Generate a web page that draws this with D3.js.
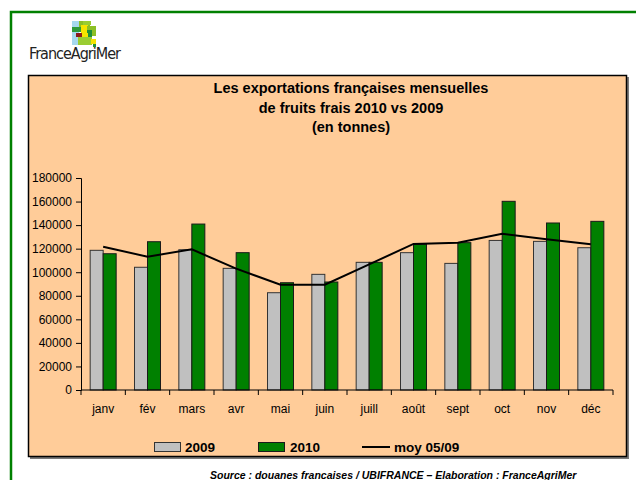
<!DOCTYPE html>
<html>
<head>
<meta charset="utf-8">
<script src="https://cdn.jsdelivr.net/npm/d3@7"></script>
<style>
body { margin: 0; background: #fff; }
text { font-family: "Liberation Sans", Arial, sans-serif; }
</style>
</head>
<body>
<div id="chart"></div>
<script>
var months = ["janv", "fév", "mars", "avr", "mai", "juin", "juill", "août", "sept", "oct", "nov", "déc"];
var exp2009 = [118600, 104200, 119100, 103300, 82600, 98200, 108400, 116600, 107500, 127000, 126200, 120800];
var exp2010 = [115700, 125900, 140900, 116600, 91100, 91700, 108400, 123700, 125100, 160200, 141800, 143200];
var moy0509 = [121700, 113200, 119400, 103000, 89400, 89400, 106700, 124000, 125100, 132700, 127900, 123700];
var yTicks = [0, 20000, 40000, 60000, 80000, 100000, 120000, 140000, 160000, 180000];
var titleLines = ["Les exportations françaises mensuelles", "de fruits frais 2010 vs 2009", "(en tonnes)"];

var width = 636, height = 480;

var svg = d3.select("#chart")
    .append("svg")
    .attr("width", width)
    .attr("height", height);

// outer green frame
svg.append("path")
    .attr("d", "M11,490 L11,12 L640,12")
    .attr("fill", "none")
    .attr("stroke", "#008000")
    .attr("stroke-width", 2.5);

// logo
var logo = svg.append("g").attr("transform", "translate(72,21)");
var blocks = [
    [0, 0, 7, 24, "#a6d8ee"], [7, 0, 11, 6, "#8cbf26"], [11, 0, 8, 4, "#9acd32"],
    [0, 6, 9, 5, "#2e9a3a"], [9, 4, 7, 10, "#f5e400"], [15, 5, 9, 10, "#8cbf26"],
    [15, 9, 5, 8, "#1f8f3a"], [4, 12, 6, 4, "#8b1a1a"], [10, 12, 6, 6, "#f5e400"],
    [6, 16, 14, 8, "#9acd32"], [19, 18, 5, 5, "#f5e400"], [21, 23, 3, 3, "#1f8f3a"]
];
logo.selectAll("rect")
    .data(blocks)
    .enter().append("rect")
    .attr("x", function(d) { return d[0]; })
    .attr("y", function(d) { return d[1]; })
    .attr("width", function(d) { return d[2]; })
    .attr("height", function(d) { return d[3]; })
    .attr("fill", function(d) { return d[4]; });

svg.append("text")
    .attr("x", 29)
    .attr("y", 59)
    .attr("textLength", 92)
    .style("font-family", "'DejaVu Sans Condensed', 'Liberation Sans Narrow', sans-serif")
    .style("font-size", "16px")
    .style("fill", "#222")
    .text("FranceAgriMer");

// chart box with shadow
svg.append("rect")
    .attr("x", 30).attr("y", 77)
    .attr("width", 599).attr("height", 382)
    .attr("fill", "#7a7a7a");
svg.append("rect")
    .attr("x", 28.5).attr("y", 75.5)
    .attr("width", 598).attr("height", 381)
    .attr("fill", "#ffcc99")
    .attr("stroke", "#000")
    .attr("stroke-width", 1.5);

// title
svg.append("text")
    .attr("text-anchor", "middle")
    .style("font-size", "14.5px")
    .style("font-weight", "bold")
    .selectAll("tspan")
    .data(titleLines)
    .enter().append("tspan")
    .attr("x", 351)
    .attr("y", function(d, i) { return 93 + i * 19.5; })
    .text(function(d) { return d; });

var x = d3.scaleBand()
    .domain(months)
    .range([81, 613]);

var y = d3.scaleLinear()
    .domain([0, 180000])
    .range([390, 178]);

var barW = 13;

// y axis
var yAxis = svg.append("g")
    .attr("transform", "translate(81,0)")
    .call(d3.axisLeft(y).tickValues(yTicks).tickSize(5).tickPadding(4).tickFormat(d3.format("d")));
yAxis.selectAll("text")
    .style("font-size", "12px")
    .style("font-family", "'Liberation Sans', Arial, sans-serif")
    .style("fill", "#000");
yAxis.select(".domain").attr("stroke", "#000");

// bars
var groups = svg.selectAll(".month")
    .data(months)
    .enter().append("g")
    .attr("class", "month")
    .attr("transform", function(d) { return "translate(" + (x(d) + x.bandwidth() / 2) + ",0)"; });

groups.append("rect")
    .attr("x", -barW)
    .attr("y", function(d, i) { return y(exp2009[i]); })
    .attr("width", barW)
    .attr("height", function(d, i) { return y(0) - y(exp2009[i]); })
    .attr("fill", "#c0c0c0")
    .attr("stroke", "#333")
    .attr("stroke-width", 1);

groups.append("rect")
    .attr("x", 0)
    .attr("y", function(d, i) { return y(exp2010[i]); })
    .attr("width", barW)
    .attr("height", function(d, i) { return y(0) - y(exp2010[i]); })
    .attr("fill", "#008000")
    .attr("stroke", "#1a1a1a")
    .attr("stroke-width", 1);

// x axis
var xAxis = svg.append("g")
    .attr("transform", "translate(0,390)");
xAxis.append("line")
    .attr("x1", 81).attr("x2", 613)
    .attr("stroke", "#000");
xAxis.selectAll(".tk")
    .data(months.concat(["end"]))
    .enter().append("line")
    .attr("x1", function(d, i) { return 81 + i * x.bandwidth(); })
    .attr("x2", function(d, i) { return 81 + i * x.bandwidth(); })
    .attr("y1", 0).attr("y2", 5)
    .attr("stroke", "#000");
xAxis.selectAll(".lbl")
    .data(months)
    .enter().append("text")
    .attr("x", function(d) { return x(d) + x.bandwidth() / 2; })
    .attr("y", 23)
    .attr("text-anchor", "middle")
    .style("font-size", "12px")
    .text(function(d) { return d; });

// moyenne line
var line = d3.line()
    .x(function(d, i) { return x(months[i]) + x.bandwidth() / 2; })
    .y(function(d) { return y(d); });

svg.append("path")
    .datum(moy0509)
    .attr("d", line)
    .attr("fill", "none")
    .attr("stroke", "#000")
    .attr("stroke-width", 2);

// legend
var legend = svg.append("g").attr("transform", "translate(0,447)");
legend.append("rect").attr("x", 154.5).attr("y", -4.5).attr("width", 26).attr("height", 9)
    .attr("fill", "#c0c0c0").attr("stroke", "#333");
legend.append("text").attr("x", 185).attr("y", 5).text("2009");
legend.append("rect").attr("x", 258.5).attr("y", -4.5).attr("width", 26).attr("height", 9)
    .attr("fill", "#008000").attr("stroke", "#1a1a1a");
legend.append("text").attr("x", 290).attr("y", 5).text("2010");
legend.append("line").attr("x1", 362).attr("x2", 390).attr("y1", 0).attr("y2", 0)
    .attr("stroke", "#000").attr("stroke-width", 2);
legend.append("text").attr("x", 394).attr("y", 5).text("moy 05/09");
legend.selectAll("text")
    .style("font-size", "13.5px")
    .style("font-weight", "bold");

// source
svg.append("text")
    .attr("x", 210)
    .attr("y", 479)
    .style("font-size", "10.5px")
    .style("font-weight", "bold")
    .style("font-style", "italic")
    .text("Source : douanes francaises / UBIFRANCE – Elaboration : FranceAgriMer");
</script>
</body>
</html>
